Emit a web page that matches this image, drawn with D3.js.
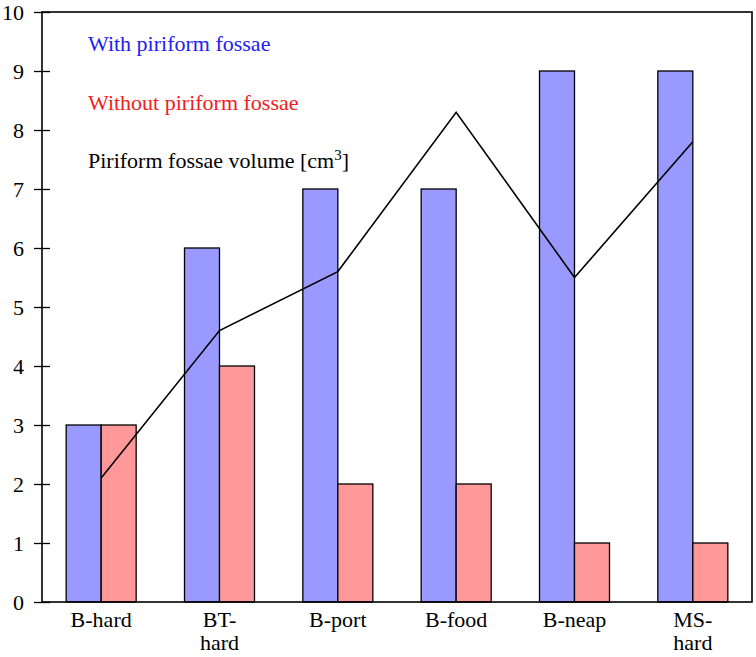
<!DOCTYPE html>
<html>
<head>
<meta charset="utf-8">
<script src="https://cdn.jsdelivr.net/npm/d3@7"></script>
<style>
  body { margin: 0; background: #fff; }
  svg text { font-family: "Liberation Serif", "Times New Roman", Times, "DejaVu Serif", serif !important; }
</style>
</head>
<body>
<div id="chart"></div>
<script>
// data
var categories = ["B-hard", "BT-hard", "B-port", "B-food", "B-neap", "MS-hard"];
var withFossae = [3, 6, 7, 7, 9, 9];
var withoutFossae = [3, 4, 2, 2, 1, 1];
var fossaeVolume = [2.1, 4.6, 5.6, 8.3, 5.5, 7.8];
var yTicks = [0, 1, 2, 3, 4, 5, 6, 7, 8, 9, 10];
// labels that wrap onto two lines
var catLines = {"BT-hard": ["BT-", "hard"], "MS-hard": ["MS-", "hard"]};

var width = 756, height = 657;
var margin = {top: 12, right: 4, bottom: 55, left: 42};
var w = width - margin.left - margin.right,
    h = height - margin.top - margin.bottom;
var fs = "22px";

var svg = d3.select("#chart").append("svg")
    .attr("width", width)
    .attr("height", height);
var g = svg.append("g")
    .attr("transform", "translate(" + margin.left + "," + margin.top + ")");

var x = d3.scaleBand().domain(categories).range([0, w]).padding(0);
var y = d3.scaleLinear().domain([0, 10]).range([h, 0]);
var barW = 35;

// blue bars (left of centre)
g.selectAll(".bar-with")
  .data(categories)
  .enter().append("rect")
    .attr("class", "bar-with")
    .attr("x", function(d) { return x(d) + x.bandwidth()/2 - barW; })
    .attr("y", function(d, i) { return y(withFossae[i]); })
    .attr("width", barW)
    .attr("height", function(d, i) { return h - y(withFossae[i]); })
    .style("fill", "#9999ff")
    .style("stroke", "#000")
    .style("stroke-width", 1.3);

// red bars (right of centre)
g.selectAll(".bar-without")
  .data(categories)
  .enter().append("rect")
    .attr("class", "bar-without")
    .attr("x", function(d) { return x(d) + x.bandwidth()/2; })
    .attr("y", function(d, i) { return y(withoutFossae[i]); })
    .attr("width", barW)
    .attr("height", function(d, i) { return h - y(withoutFossae[i]); })
    .style("fill", "#ff9999")
    .style("stroke", "#000")
    .style("stroke-width", 1.3);

// volume line
var line = d3.line()
    .x(function(d, i) { return x(categories[i]) + x.bandwidth()/2; })
    .y(function(d) { return y(d); });
g.append("path")
    .datum(fossaeVolume)
    .attr("d", line)
    .style("fill", "none")
    .style("stroke", "#000")
    .style("stroke-width", 1.6);

// frame
g.append("rect")
    .attr("x", 0).attr("y", 0)
    .attr("width", w).attr("height", h)
    .style("fill", "none")
    .style("stroke", "#000")
    .style("stroke-width", 1.6);

// y axis
var yAxis = d3.axisLeft(y).tickValues(yTicks).tickSizeInner(8).tickSizeOuter(0).tickPadding(10);
var ya = g.append("g").attr("class", "axis axis--y").call(yAxis);
ya.select(".domain").remove();
ya.selectAll(".tick line").attr("x2", 8).attr("x1", -8).attr("stroke", "#000").attr("stroke-width", 1.3);
ya.selectAll(".tick text")
    .attr("x", -18)
    .style("font-size", fs)
    .attr("fill", "#000");

// x axis labels
var xa = g.append("g")
    .attr("class", "axis axis--x")
    .attr("transform", "translate(0," + h + ")")
    .call(d3.axisBottom(x).tickSize(0).tickPadding(0));
xa.select(".domain").remove();
xa.selectAll(".tick text").each(function(d) {
  var t = d3.select(this);
  var lines = catLines[d] || [d];
  t.text(null).attr("y", 0).attr("dy", null)
    .style("font-size", fs)
    .attr("fill", "#000");
  lines.forEach(function(s, k) {
    t.append("tspan").attr("x", 0).attr("y", 25 + k * 23).text(s);
  });
});

// legend text
var legend = g.append("g").attr("transform", "translate(46,0)")
    .style("font-size", fs);
legend.append("text").attr("y", 39).attr("fill", "#2020f0").text("With piriform fossae");
legend.append("text").attr("y", 98).attr("fill", "#f02020").text("Without piriform fossae");
var t3 = legend.append("text").attr("y", 156).attr("fill", "#000");
t3.append("tspan").text("Piriform fossae volume [cm");
t3.append("tspan").attr("dy", -8).style("font-size", "15px").text("3");
t3.append("tspan").attr("dy", 8).text("]");
</script>
</body>
</html>
